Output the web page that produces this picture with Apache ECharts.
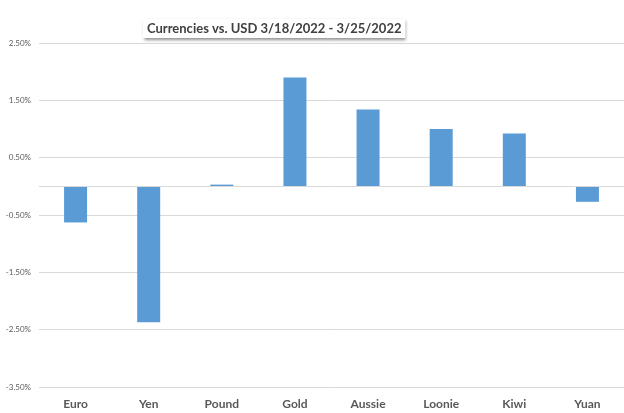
<!DOCTYPE html>
<html><head><meta charset="utf-8">
<script src="https://cdn.jsdelivr.net/npm/echarts@6/dist/echarts.min.js"></script>
<style>html,body{margin:0;padding:0;background:#fff}#c{width:624px;height:413px}</style>
</head><body><div id="c"></div>
<script>
var categories = ['Euro','Yen','Pound','Gold','Aussie','Loonie','Kiwi','Yuan'];
var values = [-0.63, -2.37, 0.03, 1.90, 1.34, 1.00, 0.92, -0.27];
var titleText = 'Currencies vs. USD 3/18/2022 - 3/25/2022';
var yMin = -3.5, yMax = 2.5, yStep = 1;

var chart = echarts.init(document.getElementById('c'), null, {renderer:'canvas'});
chart.setOption({
  animation: false,
  backgroundColor: '#fff',
  title: {
    text: titleText,
    left: 143, top: 19,
    padding: [3, 4, 3, 4],
    backgroundColor: '#fff',
    shadowColor: 'rgba(0,0,0,0.45)',
    shadowBlur: 3, shadowOffsetX: 1, shadowOffsetY: 2,
    textStyle: { fontFamily: 'Lato', fontSize: 13, fontWeight: 'bold', color: '#404040' }
  },
  grid: { left: 39, right: -2, top: 43, bottom: 26, containLabel: false },
  xAxis: {
    type: 'category', data: categories,
    axisLine: { show: false, onZero: false }, axisTick: { show: false },
    axisLabel: { margin: 11, fontFamily: 'Lato', fontSize: 12, fontWeight: 'bold', color: '#595959' },
    splitLine: { show: false }
  },
  yAxis: {
    type: 'value', min: yMin, max: yMax, interval: yStep,
    axisLine: { show: false }, axisTick: { show: false },
    axisLabel: { margin: 8, fontFamily: 'Lato', fontSize: 8, color: '#595959',
      formatter: function (v) { return v.toFixed(2) + '%'; } },
    splitLine: { lineStyle: { color: '#d9d9d9', width: 1 } }
  },
  series: [{
    type: 'bar', data: values, barWidth: 23,
    itemStyle: { color: '#5b9bd5' },
    markLine: {
      silent: true, symbol: 'none', label: { show: false },
      lineStyle: { color: '#d9d9d9', type: 'solid', width: 1 },
      data: [{ yAxis: 0 }]
    }
  }]
});
</script></body></html>
